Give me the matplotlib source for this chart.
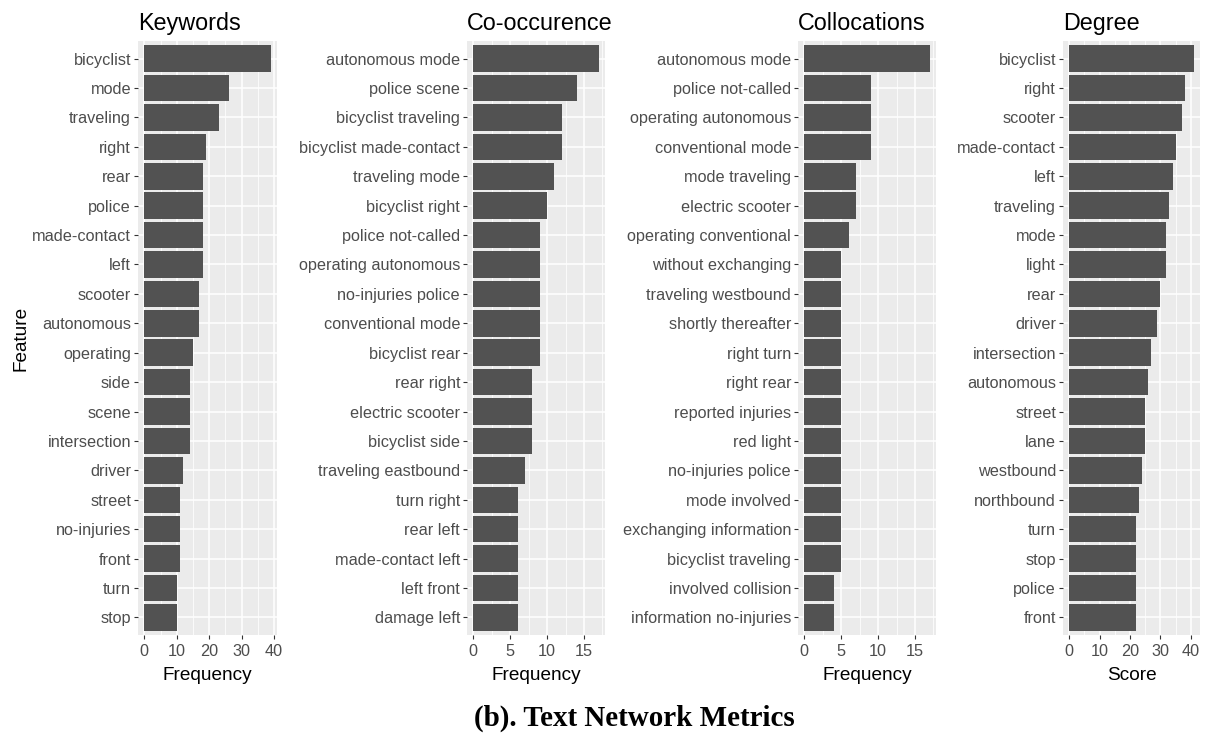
import matplotlib
matplotlib.use("Agg")
import matplotlib.pyplot as plt
from matplotlib.ticker import MultipleLocator

# --- data -------------------------------------------------------------
keyword_terms = ["bicyclist", "mode", "traveling", "right", "rear", "police",
                 "made-contact", "left", "scooter", "autonomous", "operating",
                 "side", "scene", "intersection", "driver", "street",
                 "no-injuries", "front", "turn", "stop"]
keyword_freq = [39, 26, 23, 19, 18, 18, 18, 18, 17, 17, 15, 14, 14, 14, 12,
                11, 11, 11, 10, 10]

cooc_terms = ["autonomous mode", "police scene", "bicyclist traveling",
              "bicyclist made-contact", "traveling mode", "bicyclist right",
              "police not-called", "operating autonomous", "no-injuries police",
              "conventional mode", "bicyclist rear", "rear right",
              "electric scooter", "bicyclist side", "traveling eastbound",
              "turn right", "rear left", "made-contact left", "left front",
              "damage left"]
cooc_freq = [17, 14, 12, 12, 11, 10, 9, 9, 9, 9, 9, 8, 8, 8, 7, 6, 6, 6, 6, 6]

colloc_terms = ["autonomous mode", "police not-called", "operating autonomous",
                "conventional mode", "mode traveling", "electric scooter",
                "operating conventional", "without exchanging",
                "traveling westbound", "shortly thereafter", "right turn",
                "right rear", "reported injuries", "red light",
                "no-injuries police", "mode involved", "exchanging information",
                "bicyclist traveling", "involved collision",
                "information no-injuries"]
colloc_freq = [17, 9, 9, 9, 7, 7, 6, 5, 5, 5, 5, 5, 5, 5, 5, 5, 5, 5, 4, 4]

degree_terms = ["bicyclist", "right", "scooter", "made-contact", "left",
                "traveling", "mode", "light", "rear", "driver", "intersection",
                "autonomous", "street", "lane", "westbound", "northbound",
                "turn", "stop", "police", "front"]
degree_score = [41, 38, 37, 35, 34, 33, 32, 32, 30, 29, 27, 26, 25, 25, 24,
                23, 22, 22, 22, 22]

panel_titles = ["Keywords", "Co-occurence", "Collocations", "Degree"]
x_titles = ["Frequency", "Frequency", "Frequency", "Score"]
caption = "(b). Text Network Metrics"

# --- styling ----------------------------------------------------------
W, H = 1208, 737
DPI = 100
BAR = "#525252"
PANEL_BG = "#EBEBEB"
TICK_TXT = "#4D4D4D"
SANS = ["Liberation Sans", "DejaVu Sans"]

plt.rcParams["font.family"] = SANS

fig = plt.figure(figsize=(W / DPI, H / DPI), dpi=DPI)
fig.patch.set_facecolor("white")

# panel boxes in pixels: (left, right), shared top/bottom
panel_x = [(138, 277), (467, 605), (798, 936), (1063, 1200)]
top_px, bottom_px = 41, 635
major_steps = [10, 5, 5, 10]

panels = [(keyword_terms, keyword_freq), (cooc_terms, cooc_freq),
          (colloc_terms, colloc_freq), (degree_terms, degree_score)]

for i, ((terms, vals), (x0, x1)) in enumerate(zip(panels, panel_x)):
    ax = fig.add_axes([x0 / W, 1 - bottom_px / H, (x1 - x0) / W,
                       (bottom_px - top_px) / H])
    ax.set_facecolor(PANEL_BG)
    n = len(terms)
    ypos = list(range(n, 0, -1))
    ax.barh(ypos, vals, height=0.9, color=BAR, zorder=3)

    vmax = max(vals)
    pad = 0.05 * vmax
    ax.set_xlim(-pad, vmax + pad)
    ax.set_ylim(0.4, n + 0.6)

    step = major_steps[i]
    ax.xaxis.set_major_locator(MultipleLocator(step))
    ax.xaxis.set_minor_locator(MultipleLocator(step / 2))
    ax.set_yticks(ypos)
    ax.set_yticklabels(terms)

    ax.grid(which="major", axis="both", color="white", linewidth=1.1, zorder=1)
    ax.grid(which="minor", axis="x", color="white", linewidth=0.55, zorder=1)
    ax.set_axisbelow(True)

    for s in ax.spines.values():
        s.set_visible(False)

    ax.tick_params(axis="both", which="major", length=3, width=0.8,
                   color="#333333", labelcolor=TICK_TXT, labelsize=11.7)
    ax.tick_params(axis="x", which="major", pad=3.5)
    ax.tick_params(axis="y", which="major", pad=2)
    ax.tick_params(axis="x", which="minor", length=0)

    ax.set_xlabel(x_titles[i], fontsize=13.7, color="black", labelpad=6)
    ax.set_title(panel_titles[i], loc="left", fontsize=16.8, color="black",
                 pad=8)
    if i == 0:
        ax.set_ylabel("Feature", fontsize=13.7, color="black")
        ax.yaxis.set_label_coords(-108 / (x1 - x0), 0.5)

fig.text(634 / W, 1 - 718 / H, caption, ha="center", va="center",
         fontsize=20.9, fontweight="bold",
         family=["Liberation Serif", "DejaVu Serif"])

fig.savefig("out.png", dpi=DPI)
